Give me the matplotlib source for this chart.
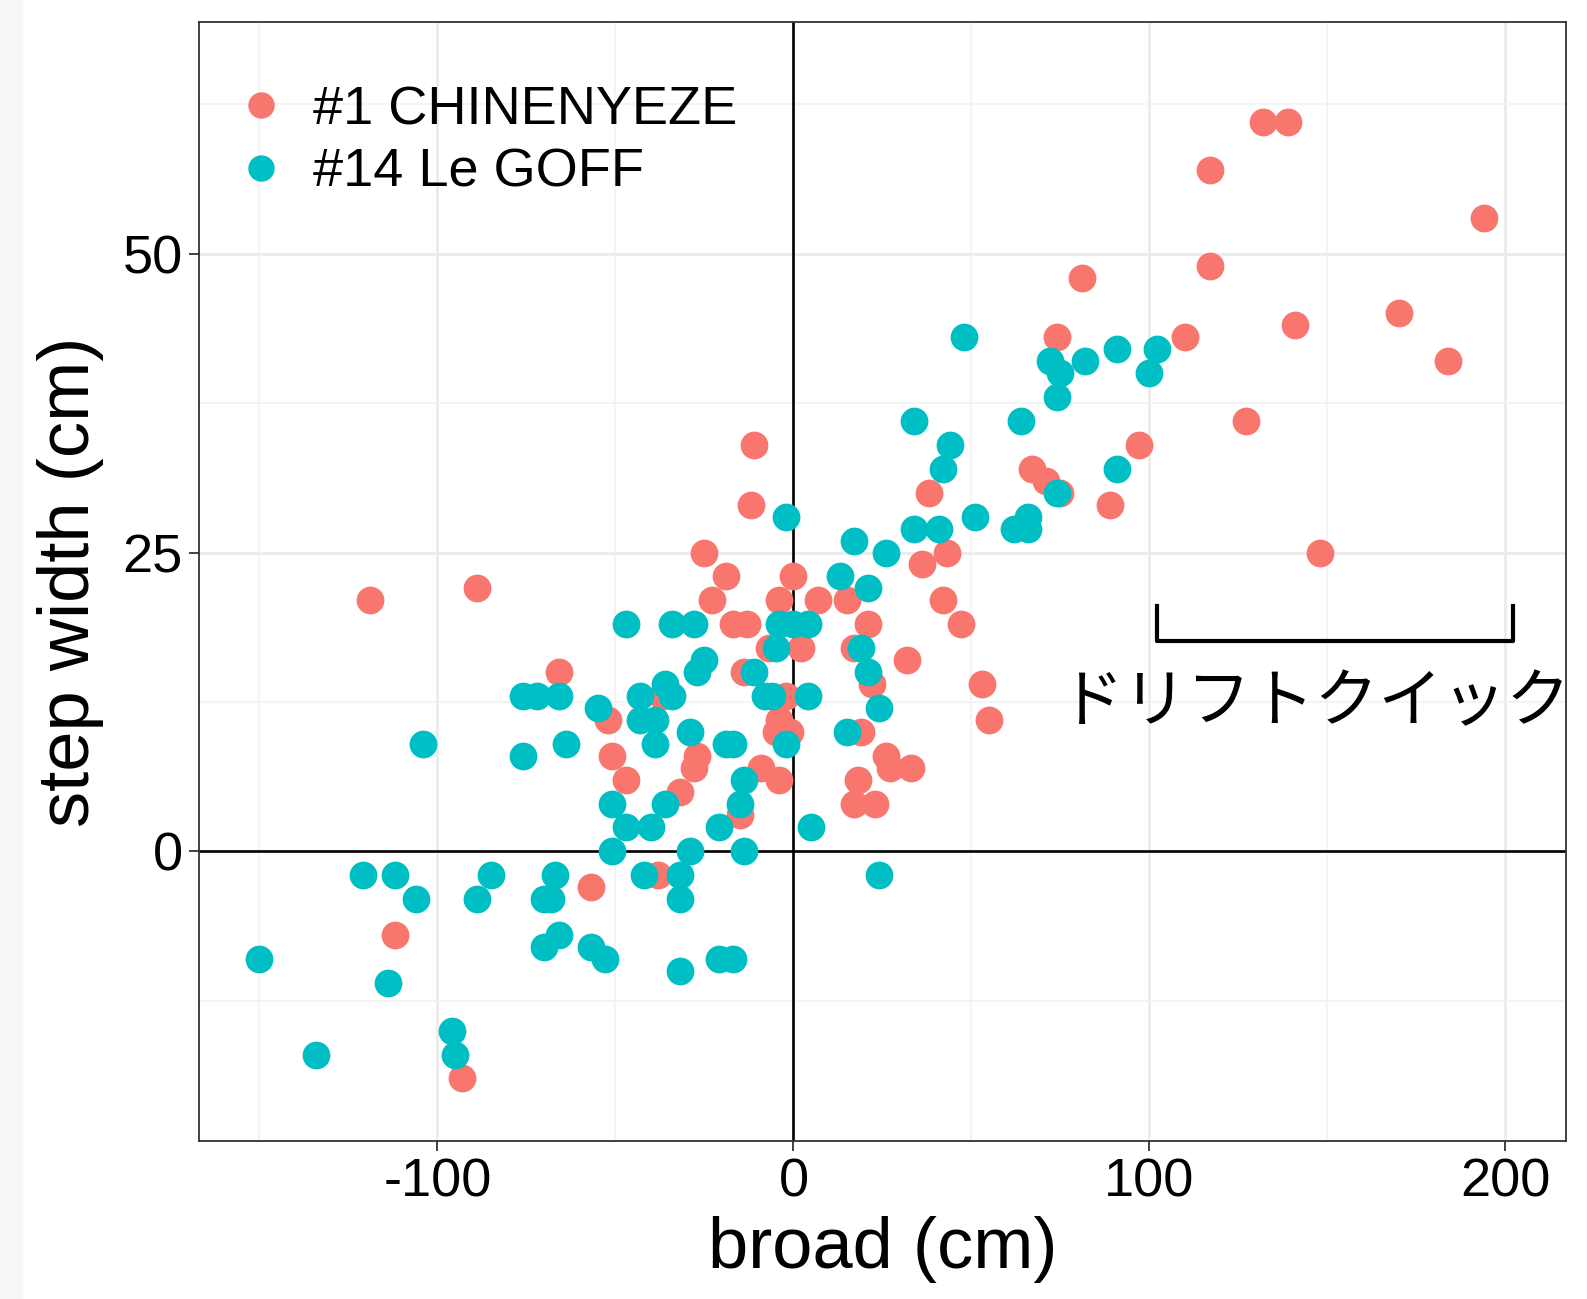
import matplotlib
matplotlib.use("Agg")
import matplotlib.pyplot as plt
from matplotlib.patches import Rectangle

# CHINENYEZE (#1)
red_x = [132, 139, 117, 194, 117, 81, 170, 141, 74, 110, 184, 127, 97, -11,
         67, 71, 75, 38, 89, -12, 148, 43, -25, 36, -19, 0, -23, -4, 7, 15,
         42, -119, -89, -17, -13, 21, 47, 2, -7, 17, 32, -66, -14, -37, 53,
         22, -2, 55, -52, -4, 19, -1, -5, -27, -51, 26, 27, 33, -9, -28, -4,
         18, -47, 17, 23, -32, -15, -57, -38, -112, -93]
red_y = [61, 61, 57, 53, 49, 48, 45, 44, 43, 43, 41, 36, 34, 34,
         32, 31, 30, 30, 29, 29, 25, 25, 25, 24, 23, 23, 21, 21, 21, 21,
         21, 21, 22, 19, 19, 19, 19, 17, 17, 17, 16, 15, 15, 13, 14,
         14, 13, 11, 11, 11, 10, 10, 10, 8, 8, 8, 7, 7, 7, 7, 6,
         6, 6, 4, 4, 5, 3, -3, -2, -7, -19]

# Le GOFF (#14)
cyan_x = [48, 72, 75, 82, 91, 102, 100, 74, 64, 34, 44, 42, 91, 74, 51, 66,
          62, 66, 34, 41, -2, 17, 26, 13, 21, -47, -34, -28, -4, 0, 4, 19,
          -5, -25, -27, -11, 21, -36, -34, -76, -72, -66, -43, -8, -6, 4, 24,
          -55, -43, -39, -29, -19, -17, 15, -2, -104, -64, -39, -76, -14, -15,
          -51, -36, -47, -40, -21, 5, -51, -29, -14, -121, -112, -85, -67, -42,
          -32, 24, -106, -89, -70, -68, -32, -66, -70, -57, -53, -21, -17, -32,
          -150, -114, -96, -95, -134]
cyan_y = [43, 41, 40, 41, 42, 42, 40, 38, 36, 36, 34, 32, 32, 30, 28, 28,
          27, 27, 27, 27, 28, 26, 25, 23, 22, 19, 19, 19, 19, 19, 19, 17,
          17, 16, 15, 15, 15, 14, 13, 13, 13, 13, 13, 13, 13, 13, 12,
          12, 11, 11, 10, 9, 9, 10, 9, 9, 9, 9, 8, 6, 4,
          4, 4, 2, 2, 2, 2, 0, 0, 0, -2, -2, -2, -2, -2,
          -2, -2, -4, -4, -4, -4, -4, -7, -8, -8, -9, -9, -9, -10,
          -9, -11, -15, -17, -17]

labels = ["#1 CHINENYEZE", "#14 Le GOFF"]
colors = ["#F8766D", "#00BFC4"]

x_ticks = [-100, 0, 100, 200]
y_ticks = [0, 25, 50]
x_minor = [-150, -50, 50, 150]
y_minor = [-12.5, 12.5, 37.5, 62.5]

bracket_x = [102, 202]
bracket_y = [17.6, 20.5]
note = "ドリフトクイック"

plt.rcParams["font.family"] = ["Liberation Sans", "Noto Sans CJK JP", "DejaVu Sans"]
plt.rcParams["axes.unicode_minus"] = False

fig = plt.figure(figsize=(15.87, 12.99), dpi=100)
fig.patches.append(Rectangle((0, 0), 22 / 1587, 1, transform=fig.transFigure,
                             color="#f7f7f7", zorder=0))
ax = fig.add_axes([0.1256, 0.1219, 0.8609, 0.8609])

ax.set_xlim(-166.9, 216.9)
ax.set_ylim(-24.2, 69.35)

ax.set_xticks(x_ticks)
ax.set_yticks(y_ticks)
ax.set_xticks(x_minor, minor=True)
ax.set_yticks(y_minor, minor=True)
ax.grid(True, which="major", color="#ebebeb", linewidth=2.0)
ax.grid(True, which="minor", color="#f2f2f2", linewidth=1.2)
ax.set_axisbelow(True)

ax.axvline(0, color="black", linewidth=1.9, zorder=1.5)
ax.axhline(0, color="black", linewidth=1.9, zorder=1.5)

ax.plot(red_x, red_y, "o", color=colors[0], markersize=20, markeredgewidth=0,
        label=labels[0], zorder=3)
ax.plot(cyan_x, cyan_y, "o", color=colors[1], markersize=20, markeredgewidth=0,
        label=labels[1], zorder=3)

# bracket + note
ax.plot([bracket_x[0], bracket_x[0], bracket_x[1], bracket_x[1]],
        [bracket_y[1], bracket_y[0], bracket_y[0], bracket_y[1]],
        color="black", linewidth=3.0, solid_joinstyle="round", zorder=4)
ax.text(146.3, 12.4, note, fontsize=46, ha="center", va="center",
        family=["Noto Sans CJK JP", "DejaVu Sans"], zorder=4)

for sp in ax.spines.values():
    sp.set_color("#333333")
    sp.set_linewidth(1.3)

ax.tick_params(axis="both", which="major", length=7, width=1.3, color="#333333",
               labelsize=39, labelcolor="black", pad=5)
ax.tick_params(axis="both", which="minor", length=0)

ax.set_xlabel("broad (cm)", fontsize=52, labelpad=6)
ax.set_ylabel("step width (cm)", fontsize=52, labelpad=13)

leg = ax.legend(loc="upper left", bbox_to_anchor=(0.0, 0.963), frameon=False,
                fontsize=39, markerscale=0.95, handletextpad=0.2,
                labelspacing=0.23, borderaxespad=0.0, handlelength=1.49)

fig.savefig("out.png", dpi=100)
